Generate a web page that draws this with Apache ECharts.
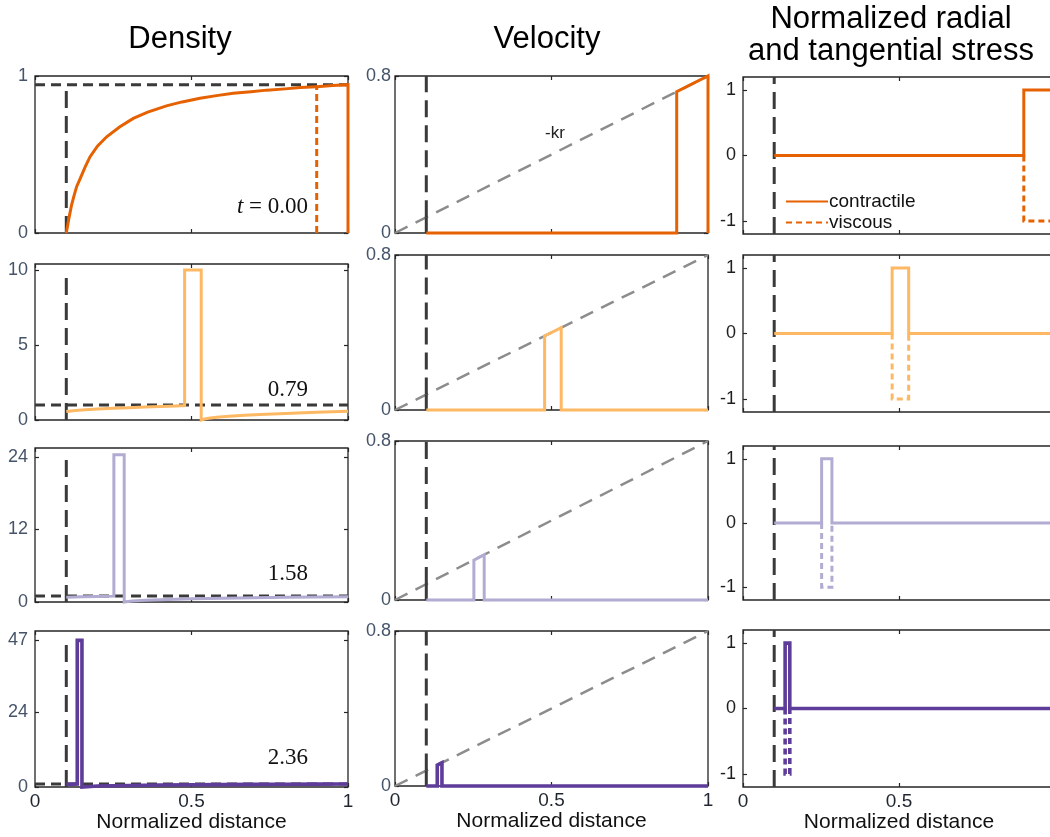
<!DOCTYPE html>
<html>
<head>
<meta charset="utf-8">
<script src="https://cdn.jsdelivr.net/npm/echarts@6/dist/echarts.min.js"></script>
<style>
  html, body { margin: 0; padding: 0; background: #ffffff; }
  #chart { width: 1050px; height: 837px; }
</style>
</head>
<body>
<div id="chart"></div>
<script>
// ---- data ----------------------------------------------------------------
const xTicks = [0, 0.5, 1];
const innerRadius = 0.1;
const timeLabels = ['0.00', '0.79', '1.58', '2.36'];
const rowColors = ['#e66101', '#fdb863', '#b2abd2', '#5e3c99'];
const ringStart = [0.9, 0.478, 0.252, 0.135];
const ringEnd = [1.0, 0.531, 0.285, 0.15];

// density panels
const densityMax = [1, 10.4, 25.5, 50];
const densityTicks = [[0, 1], [0, 5, 10], [0, 12, 24], [0, 24, 47]];
const densityRef = [0.945, 1, 1, 1];
const densityPeak = [0.945, 10, 24.4, 47];
const densityT0 = [[0.1, 0], [0.108, 0.09], [0.117, 0.18], [0.125, 0.24], [0.133, 0.295], [0.145, 0.35],
  [0.16, 0.42], [0.176, 0.486], [0.2, 0.555], [0.229, 0.613], [0.27, 0.675], [0.314, 0.73], [0.36, 0.77],
  [0.42, 0.81], [0.47, 0.835], [0.527, 0.858], [0.58, 0.875], [0.633, 0.89], [0.69, 0.9], [0.74, 0.91],
  [0.8, 0.918], [0.847, 0.926], [0.9, 0.932], [0.95, 0.939], [1, 0.945], [1, 0]];
const densityT1 = [[0.1, 0.56], [0.13, 0.63], [0.16, 0.68], [0.2, 0.73], [0.25, 0.78], [0.3, 0.82],
  [0.35, 0.86], [0.4, 0.9], [0.45, 0.94], [0.478, 0.96], [0.478, 10], [0.531, 10], [0.531, 0],
  [0.545, 0.08], [0.56, 0.13], [0.58, 0.18], [0.62, 0.25], [0.67, 0.31], [0.72, 0.37], [0.8, 0.44],
  [0.9, 0.52], [1, 0.58]];
const densityT2 = [[0.1, 0.8], [0.15, 0.88], [0.2, 0.93], [0.252, 0.97], [0.252, 24.4], [0.285, 24.4],
  [0.285, 0], [0.31, 0.15], [0.35, 0.27], [0.4, 0.38], [0.5, 0.52], [0.6, 0.62], [0.7, 0.7], [0.8, 0.77],
  [0.9, 0.83], [1, 0.88]];
const densityT3 = [[0.1, 0.85], [0.12, 0.92], [0.135, 0.96], [0.135, 47], [0.15, 47], [0.15, 0],
  [0.2, 0.3], [0.3, 0.5], [0.4, 0.62], [0.5, 0.7], [0.6, 0.77], [0.7, 0.83], [0.8, 0.88], [0.9, 0.93],
  [1, 0.97]];
const densityProfiles = [densityT0, densityT1, densityT2, densityT3];
const ringMarkT0 = [[0.9, 0], [0.9, 0.94]];

// velocity panels
const velocityMax = 0.8;
const krLine = [[0, 0], [1, 0.8]];
const velocityRingTop = [[0.72, 0.8], [0.382, 0.425], [0.2, 0.228], [0.108, 0.12]];
const innerWallVelocity = 0.08;

// stress panels
const stressRange = 1.2;
const stressTicks = [-1, 0, 1];
const contractileLevel = 1;
const viscousLevel = -1;

// ---- layout --------------------------------------------------------------
const colLeft = [35, 395, 743];
const colWidth = [313, 313, 312];
const rowTop = [[76, 264, 448, 631], [76, 255, 441, 631], [77, 255, 446, 630]];
const rowBottom = [[233, 420, 602, 787], [233, 410, 600, 786], [234, 412, 600, 787]];
const AXIS = '#262626';
const SANS = 'Liberation Sans, Arial, sans-serif';
const SERIF = 'Liberation Serif, Times New Roman, serif';
const BLACK_DASH = '#3a3a3a';

const grids = [], xAxes = [], yAxes = [], series = [];

function tickStyle(values) {
  const t = { show: true, inside: true, length: 4, lineStyle: { color: AXIS, width: 1.2 } };
  if (values) t.customValues = values;
  return t;
}

function addLine(g, data, color, width, dash, z, name) {
  series.push({
    type: 'line', name: name || undefined,
    xAxisIndex: 2 * g, yAxisIndex: 2 * g,
    data: data, symbol: 'none', clip: false, silent: true, animation: false,
    itemStyle: { color: color },
    lineStyle: { color: color, width: width, type: dash || 'solid', cap: 'butt', join: 'miter' },
    z: z || 2
  });
}

for (let r = 0; r < 4; r++) {
  for (let c = 0; c < 3; c++) {
    const g = grids.length;
    grids.push({
      left: colLeft[c], top: rowTop[c][r], width: colWidth[c],
      height: rowBottom[c][r] - rowTop[c][r],
      show: true, borderColor: AXIS, borderWidth: 1.3, backgroundColor: 'transparent',
      containLabel: false, outerBoundsMode: 'none'
    });
    const bottomRow = r === 3;
    xAxes.push({
      type: 'value', gridIndex: g, min: 0, max: 1, interval: 0.5, position: 'bottom',
      axisLine: { show: false, onZero: false }, splitLine: { show: false },
      axisTick: tickStyle(xTicks),
      axisLabel: { show: bottomRow, margin: 5, color: '#1f2630', fontSize: 19, fontFamily: SANS, customValues: xTicks },
      name: bottomRow ? 'Normalized distance' : '', nameLocation: 'middle', nameGap: 25,
      nameTextStyle: { fontSize: 21, color: '#111', fontFamily: SANS }
    });
    xAxes.push({
      type: 'value', gridIndex: g, min: 0, max: 1, interval: 0.5, position: 'top',
      axisLine: { show: false, onZero: false }, splitLine: { show: false },
      axisTick: tickStyle(xTicks), axisLabel: { show: false }
    });

    let yMin, yMax, yTickVals, labelColor;
    if (c === 0) { yMin = 0; yMax = densityMax[r]; yTickVals = densityTicks[r]; labelColor = '#46546a'; }
    else if (c === 1) { yMin = 0; yMax = velocityMax; yTickVals = [0, velocityMax]; labelColor = '#46546a'; }
    else { yMin = -stressRange; yMax = stressRange; yTickVals = stressTicks; labelColor = '#1e1e1e'; }

    yAxes.push({
      type: 'value', gridIndex: g, min: yMin, max: yMax, position: 'left',
      axisLine: { show: false, onZero: false }, splitLine: { show: false },
      axisTick: tickStyle(yTickVals),
      axisLabel: { show: true, margin: c === 1 ? 4 : 7, color: labelColor, fontSize: 18, fontFamily: SANS, customValues: yTickVals }
    });
    yAxes.push({
      type: 'value', gridIndex: g, min: yMin, max: yMax, position: 'right',
      axisLine: { show: false, onZero: false }, splitLine: { show: false },
      axisTick: tickStyle(yTickVals), axisLabel: { show: false }
    });

    const col = rowColors[r];
    const w = r === 3 ? 3.6 : 3;
    const s = ringStart[r], e = ringEnd[r];

    if (c === 0) {
      // reference level and inner boundary
      addLine(g, [[0, densityRef[r]], [1, densityRef[r]]], BLACK_DASH, 3, [10, 6], 2);
      addLine(g, [[innerRadius, 0], [innerRadius, densityPeak[r]]], BLACK_DASH, 3, [17, 8], 2);
      if (r === 0) addLine(g, ringMarkT0, col, 3, [7, 4], 3);
      addLine(g, densityProfiles[r], col, w, null, 4);
    } else if (c === 1) {
      addLine(g, krLine, '#8c8c8c', 2.5, [14, 9], 2);
      addLine(g, [[innerRadius, innerWallVelocity], [innerRadius, velocityMax]], BLACK_DASH, 3, [17, 8], 2);
      addLine(g, [[innerRadius, 0], [innerRadius, innerWallVelocity]], BLACK_DASH, 3, null, 2);
      const top = velocityRingTop[r];
      const prof = [[innerRadius, 0], [s, 0], [s, top[0]], [e, top[1]], [e, 0]];
      if (e < 1) prof.push([1, 0]);
      addLine(g, prof, col, w, null, 4);
    } else {
      addLine(g, [[innerRadius, -stressRange], [innerRadius, stressRange]], BLACK_DASH, 3, [17, 8], 2);
      const contr = [[innerRadius, 0], [s, 0], [s, contractileLevel], [e, contractileLevel]];
      if (e < 1) { contr.push([e, 0]); contr.push([1, 0]); }
      const visc = [[s, 0], [s, viscousLevel], [e, viscousLevel]];
      if (e < 1) visc.push([e, 0]);
      addLine(g, visc, col, w, [6, 4], 3, r === 0 ? 'viscous' : 'viscous ' + r);
      addLine(g, contr, col, w, null, 4, r === 0 ? 'contractile' : 'contractile ' + r);
    }
  }
}

// ---- text ----------------------------------------------------------------
const titleFont = { fontSize: 31, fontFamily: SANS, fill: '#000' };
const graphics = [
  { type: 'text', x: 180, y: 39, style: Object.assign({ text: 'Density', align: 'center', verticalAlign: 'middle' }, titleFont) },
  { type: 'text', x: 547, y: 39, style: Object.assign({ text: 'Velocity', align: 'center', verticalAlign: 'middle' }, titleFont) },
  { type: 'text', x: 891, y: 19, style: Object.assign({ text: 'Normalized radial', align: 'center', verticalAlign: 'middle' }, titleFont) },
  { type: 'text', x: 891, y: 51, style: Object.assign({ text: 'and tangential stress', align: 'center', verticalAlign: 'middle' }, titleFont) },
  { type: 'text', x: 555, y: 133, style: { text: '-kr', align: 'center', verticalAlign: 'middle', fontSize: 17, fontFamily: SANS, fill: '#222' } }
];
const timeY = [207, 390, 574, 758];
for (let r = 0; r < 4; r++) {
  const txt = r === 0 ? '{i|t} = ' + timeLabels[r] : timeLabels[r];
  graphics.push({
    type: 'text', x: colLeft[0] + colWidth[0] - 40, y: timeY[r],
    style: {
      text: txt, align: 'right', verticalAlign: 'middle',
      fontSize: 23, fontFamily: SERIF, fill: '#111',
      rich: { i: { fontStyle: 'italic', fontSize: 23, fontFamily: SERIF, fill: '#111' } }
    }
  });
}

const chart = echarts.init(document.getElementById('chart'), null, { renderer: 'canvas' });
chart.setOption({
  animation: false,
  backgroundColor: '#ffffff',
  grid: grids,
  xAxis: xAxes,
  yAxis: yAxes,
  legend: {
    data: ['contractile', 'viscous'],
    orient: 'vertical', left: 780, top: 187,
    itemWidth: 42, itemHeight: 14, itemGap: 2, selectedMode: false,
    itemStyle: { opacity: 0 },
    textStyle: { fontSize: 19, color: '#111', fontFamily: SANS, padding: [0, 0, 0, -4] }
  },
  graphic: graphics,
  series: series
});
</script>
</body>
</html>
